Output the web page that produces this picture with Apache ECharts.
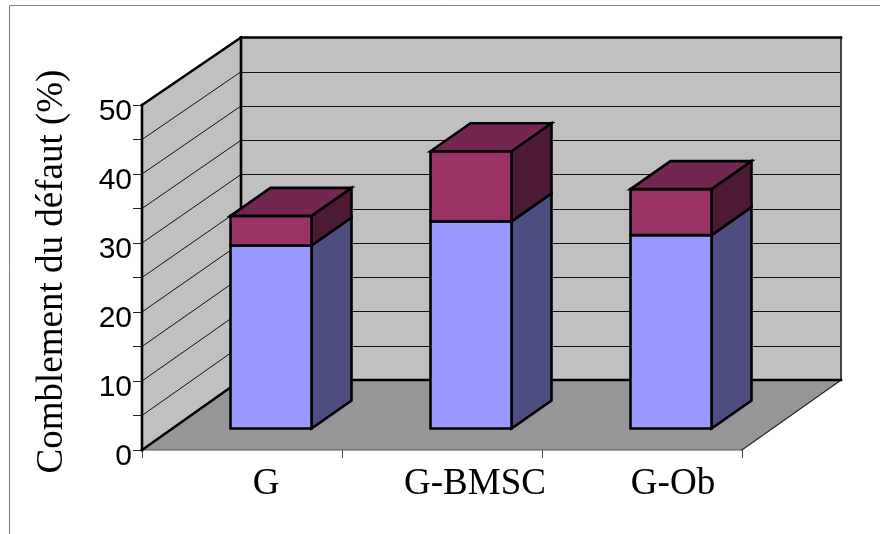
<!DOCTYPE html>
<html>
<head>
<meta charset="utf-8">
<style>html,body{margin:0;padding:0;background:#fff}#chart{width:880px;height:534px}</style>
<script src="https://cdn.jsdelivr.net/npm/echarts@6/dist/echarts.min.js"></script>
</head>
<body>
<div id="chart"></div>
<script>
// Stacked pseudo-3D columns: wall, floor and box faces are projected from three parallel planes.
const categories = ['G', 'G-BMSC', 'G-Ob'];
const lowerValues = [26.6, 30.1, 28.1];
const upperValues = [4.3, 10.2, 6.7];
const wallLines = [5, 10, 15, 20, 25, 30, 35, 40, 45];
const axisTitle = 'Comblement du défaut (%)';

const FRONT = 0, BACK = 1, BARS = 2;
const boxDepth = [40, -28];
const barShare = 0.405;
const sans = '"Liberation Sans", Arial, sans-serif';
const serif = '"Liberation Serif", "Times New Roman", serif';
const labelPadding = [[0, 10, 0, 0], [0, 0, 0, 8], [0, 0, 0, 4]];

const chart = echarts.init(document.getElementById('chart'), null, { renderer: 'canvas' });

// Pixel position of a point on a plane; across runs along the category axis from 0 to 3.
function planePoint(plane, across, value) {
  const finder = { xAxisIndex: plane, yAxisIndex: plane };
  const first = chart.convertToPixel(finder, [0, value]);
  const second = chart.convertToPixel(finder, [1, value]);
  return [first[0] + (across - 0.5) * (second[0] - first[0]), first[1]];
}

function segment(a, b, stroke, lineWidth) {
  return {
    type: 'line',
    shape: { x1: a[0], y1: a[1], x2: b[0], y2: b[1] },
    style: { stroke, lineWidth, lineCap: 'square' }
  };
}

function renderShell() {
  const f00 = planePoint(FRONT, 0, 0), f30 = planePoint(FRONT, 3, 0);
  const b00 = planePoint(BACK, 0, 0), b30 = planePoint(BACK, 3, 0);
  const f050 = planePoint(FRONT, 0, 50), b050 = planePoint(BACK, 0, 50), b350 = planePoint(BACK, 3, 50);
  const children = [
    { type: 'polygon', shape: { points: [f00, f30, b30, b00] }, style: { fill: '#969696' } },
    { type: 'polygon', shape: { points: [f00, f050, b050, b00] }, style: { fill: '#c0c0c0' } }
  ];
  wallLines.forEach(v => {
    children.push(segment(planePoint(FRONT, 0, v), planePoint(BACK, 0, v), '#111', 1));
  });
  children.push(
    segment(f00, f30, '#555', 1.2),
    segment(f30, b30, '#222', 1.2),
    segment(b30, b350, '#333', 1.8),
    segment(b00, b30, '#000', 2.6),
    segment(f00, b00, '#000', 2.6),
    segment(f00, f050, '#000', 2.6),
    segment(f050, b050, '#000', 2.6),
    segment(b00, b050, '#000', 2.6),
    segment(b050, b350, '#000', 2.6)
  );
  return { type: 'group', children };
}

function renderBox(colors, withTop) {
  return function (params, api) {
    const cat = api.value(0);
    const w = api.size([1, 0])[0] * barShare;
    const low = api.coord([cat, api.value(1)]);
    const high = api.coord([cat, api.value(2)]);
    const x0 = low[0] - w / 2, x1 = low[0] + w / 2;
    const [dx, dy] = boxDepth;
    const face = (points, fill) => ({
      type: 'polygon',
      shape: { points },
      style: { fill, stroke: '#000', lineWidth: 2.6, lineJoin: 'miter' }
    });
    const children = [
      face([[x1, low[1]], [x1, high[1]], [x1 + dx, high[1] + dy], [x1 + dx, low[1] + dy]], colors.side),
      face([[x0, low[1]], [x0, high[1]], [x1, high[1]], [x1, low[1]]], colors.front)
    ];
    if (withTop) {
      children.push(face([[x0, high[1]], [x0 + dx, high[1] + dy], [x1 + dx, high[1] + dy], [x1, high[1]]], colors.top));
    }
    return { type: 'group', children };
  };
}

const hiddenAxisParts = {
  axisLine: { show: false }, axisTick: { show: false }, axisLabel: { show: false }, splitLine: { show: false }
};

const lowerData = categories.map((c, i) => [i, 0, lowerValues[i]]);
const upperData = categories.map((c, i) => [i, lowerValues[i], lowerValues[i] + upperValues[i]]);

chart.setOption({
  animation: false,
  backgroundColor: '#fff',
  graphic: [{
    type: 'rect', silent: true,
    shape: { x: 9.5, y: 5.5, width: 1000, height: 800 },
    style: { fill: 'none', stroke: '#7f7f7f', lineWidth: 1 }
  }],
  grid: [
    { left: 142, top: 105, width: 600, height: 345 },
    { left: 241, top: 37.5, width: 600, height: 342.5, show: true, backgroundColor: '#c0c0c0', borderWidth: 0 },
    { left: 171, top: 84.5, width: 600, height: 344 }
  ],
  xAxis: [
    {
      type: 'category', gridIndex: FRONT, data: categories,
      axisLine: { show: false },
      axisTick: { show: true, length: 8, lineStyle: { color: '#444', width: 1 } },
      axisLabel: { show: false }, splitLine: { show: false }
    },
    { type: 'category', gridIndex: BACK, data: categories, ...hiddenAxisParts },
    {
      type: 'category', gridIndex: BARS,
      data: categories.map((c, i) => ({ value: c, textStyle: { padding: labelPadding[i] } })),
      axisLine: { show: false }, axisTick: { show: false }, splitLine: { show: false },
      axisLabel: { show: true, margin: 37, fontFamily: serif, fontSize: 37, color: '#000' }
    }
  ],
  yAxis: [
    {
      type: 'value', gridIndex: FRONT, min: 0, max: 50, interval: 10,
      name: axisTitle, nameLocation: 'middle', nameRotate: 90, nameGap: 71,
      nameTextStyle: { fontFamily: serif, fontSize: 37, color: '#000', padding: [0, 0, 0, 12] },
      axisLine: { show: false },
      axisTick: { show: true, length: 9, lineStyle: { color: '#222', width: 1 } },
      minorTick: { show: true, splitNumber: 2, length: 9, lineStyle: { color: '#222', width: 1 } },
      axisLabel: { margin: 10, fontFamily: sans, fontSize: 30, color: '#000', verticalAlign: 'top', lineHeight: 14 },
      splitLine: { show: false }
    },
    {
      type: 'value', gridIndex: BACK, min: 0, max: 50, interval: 5,
      axisLine: { show: false }, axisTick: { show: false }, axisLabel: { show: false },
      splitLine: { show: true, lineStyle: { color: '#111', width: 1 } }
    },
    { type: 'value', gridIndex: BARS, min: 0, max: 50, ...hiddenAxisParts }
  ],
  series: [
    {
      type: 'custom', xAxisIndex: FRONT, yAxisIndex: FRONT, z: 2, silent: true, clip: false,
      data: [[0, 0]], renderItem: renderShell
    },
    {
      type: 'custom', name: 'Inférieur', xAxisIndex: BARS, yAxisIndex: BARS, z: 3, clip: false,
      data: lowerData, encode: { x: 0, y: [1, 2] },
      renderItem: renderBox({ front: '#9999ff', side: '#4d4d80' }, false)
    },
    {
      type: 'custom', name: 'Supérieur', xAxisIndex: BARS, yAxisIndex: BARS, z: 4, clip: false,
      data: upperData, encode: { x: 0, y: [1, 2] },
      renderItem: renderBox({ front: '#993366', side: '#4d1a33', top: '#732650' }, true)
    }
  ]
});
</script>
</body>
</html>
